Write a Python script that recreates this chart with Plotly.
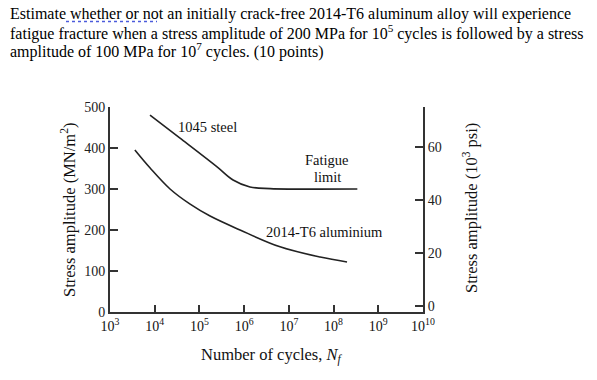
import plotly.graph_objects as go

# ---- data ----
steel_cycles = [7.85e3, 3.68e4, 2.48e5, 5.65e5, 1.35e6, 3.8e6, 3.4e8]
steel_stress = [480, 424, 354, 322, 305, 301, 300]

al_cycles = [3.6e3, 7.9e3, 2.2e4, 6.2e4, 1.73e5, 8.1e5, 6.35e6, 5.0e7, 2.0e8]
al_stress = [395, 351, 300, 263, 234, 200, 159, 134, 122]

x_tickvals = [1e3, 1e4, 1e5, 1e6, 1e7, 1e8, 1e9, 1e10]
x_ticktext = ["10<sup>3</sup>", "10<sup>4</sup>", "10<sup>5</sup>", "10<sup>6</sup>",
              "10<sup>7</sup>", "10<sup>8</sup>", "10<sup>9</sup>", "10<sup>10</sup>"]
y_tickvals = [0, 100, 200, 300, 400, 500]
y2_tickvals = [0, 20, 40, 60]

title_lines = [
    "Estimate whether or not an initially crack-free 2014-T6 aluminum alloy will experience",
    "fatigue fracture when a stress amplitude of 200 MPa for 10<sup>5</sup> cycles is followed by a stress",
    "amplitude of 100 MPa for 10<sup>7</sup> cycles. (10 points)",
]

SERIF = "Liberation Serif, Times New Roman, serif"
AX = "#333333"
TXT = "#111111"

# the page adds an 8px body margin; figure is sized/placed to compensate
OFF = 8
W, H = 597 - OFF, 380 - OFF
# plot-area geometry in window pixels
L, R, T, B = 110, 423, 107, 312
PW, PH = R - L, B - T
title_bottoms = [24, 44, 62]   # pixel bottoms of the title line boxes
TITLE_LEFT = 9


def px(xp):
    return (xp - L) / PW


def py(yp):
    return (B - yp) / PH


fig = go.Figure()
fig.add_trace(go.Scatter(x=steel_cycles, y=steel_stress, mode="lines",
                         line=dict(color="#222222", width=1.6, shape="spline", smoothing=1.0),
                         showlegend=False, hoverinfo="skip"))
fig.add_trace(go.Scatter(x=al_cycles, y=al_stress, mode="lines",
                         line=dict(color="#222222", width=1.6, shape="spline", smoothing=1.0),
                         showlegend=False, hoverinfo="skip"))
# invisible trace to activate right axis
fig.add_trace(go.Scatter(x=[1e3], y=[0], yaxis="y2", mode="markers",
                         marker=dict(opacity=0), showlegend=False, hoverinfo="skip"))

fig.update_layout(
    template="none",
    width=W, height=H,
    margin=dict(l=L - OFF, r=597 - R, t=T - OFF, b=380 - B, autoexpand=False),
    paper_bgcolor="white", plot_bgcolor="white",
    font=dict(family=SERIF, color=TXT, size=14),
    showlegend=False,
    xaxis=dict(type="log", range=[3, 10], tickvals=x_tickvals, ticktext=x_ticktext,
               ticks="inside", ticklen=7, tickcolor=AX, tickwidth=1.5, automargin=False,
               showline=True, linecolor=AX, linewidth=2, showgrid=False, zeroline=False,
               tickfont=dict(family=SERIF, size=14, color=TXT)),
    yaxis=dict(range=[0, 500], tickvals=y_tickvals, ticks="inside", ticklen=8,
               tickcolor=AX, tickwidth=1.5, showline=True, linecolor=AX, linewidth=2,
               showgrid=False, zeroline=False, automargin=False,
               tickfont=dict(family=SERIF, size=14, color="#222222")),
    yaxis2=dict(range=[-2.3, 75.1], tickvals=y2_tickvals, overlaying="y",
                side="right", ticks="inside", ticklen=8, tickcolor=AX, tickwidth=1.5,
                showline=True, linecolor=AX, linewidth=2, showgrid=False, zeroline=False,
                automargin=False,
                tickfont=dict(family=SERIF, size=14, color="#222222")),
)

ann = []
for line, bot in zip(title_lines, title_bottoms):
    ann.append(dict(x=px(TITLE_LEFT), y=py(bot), xref="paper", yref="paper", text=line,
                    xanchor="left", yanchor="bottom", align="left", showarrow=False,
                    borderpad=0, font=dict(family=SERIF, size=16, color="#000000")))

ann += [
    dict(x=5.19, y=451, xref="x", yref="y", text="1045 steel", showarrow=False,
         font=dict(family=SERIF, size=14.5, color=TXT)),
    dict(x=7.855, y=371, xref="x", yref="y", text="Fatigue", showarrow=False,
         font=dict(family=SERIF, size=14.5, color=TXT)),
    dict(x=7.855, y=329, xref="x", yref="y", text="limit", showarrow=False,
         font=dict(family=SERIF, size=14.5, color=TXT)),
    dict(x=7.79, y=195, xref="x", yref="y", text="2014-T6 aluminium", showarrow=False,
         font=dict(family=SERIF, size=14.5, color=TXT)),
    dict(x=px(68), y=py(210), xref="paper", yref="paper", xanchor="center", yanchor="middle",
         text="Stress amplitude (MN/m<sup>2</sup>)", textangle=-90, showarrow=False,
         font=dict(family=SERIF, size=16.5, color=TXT)),
    dict(x=px(470), y=py(208), xref="paper", yref="paper", xanchor="center", yanchor="middle",
         text="Stress amplitude (10<sup>3</sup> psi)", textangle=-90, showarrow=False,
         font=dict(family=SERIF, size=16.5, color=TXT)),
    dict(x=px(272), y=py(355), xref="paper", yref="paper", xanchor="center", yanchor="middle",
         text="Number of cycles, <i>N<sub>f</sub></i>", showarrow=False,
         font=dict(family=SERIF, size=16.5, color=TXT)),
]
fig.update_layout(annotations=ann)

# spell-check style dotted underline under "whether or not"
fig.add_shape(type="line", xref="paper", yref="paper",
              x0=px(66), x1=px(157), y0=py(21.5), y1=py(21.5),
              line=dict(color="#4c5bdb", width=1.5, dash="dot"))

fig.write_html("out.html")
